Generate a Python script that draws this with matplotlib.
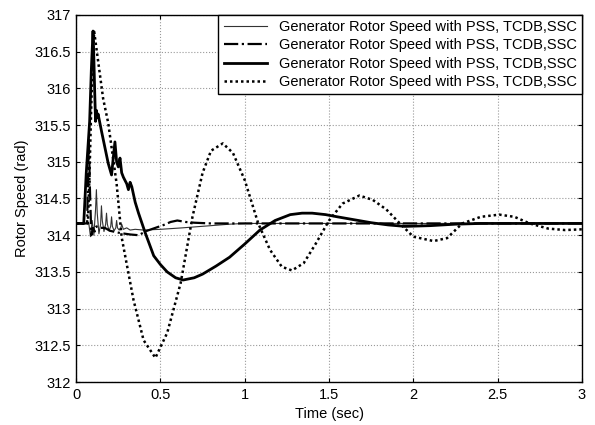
import numpy as np
import matplotlib.pyplot as plt

plt.rcParams['font.family'] = ['Liberation Sans', 'DejaVu Sans']

label = "Generator Rotor Speed with PSS, TCDB,SSC"

# thin solid
t1 = [0, 0.075, 0.085, 0.095, 0.105, 0.115, 0.12, 0.125, 0.135, 0.145, 0.15, 0.155, 0.165, 0.175, 0.18,
      0.185, 0.195, 0.205, 0.21, 0.215, 0.225, 0.235, 0.24, 0.245, 0.255, 0.265, 0.27, 0.28, 0.30, 0.32,
      0.35, 0.40, 0.5, 0.63, 0.8, 0.91, 1.0, 1.2, 3.0]
y1 = [314.16, 314.16, 313.98, 314.2, 314.0, 314.35, 314.62, 314.3, 314.02, 314.15, 314.4, 314.2, 314.05,
      314.15, 314.3, 314.15, 314.06, 314.12, 314.25, 314.12, 314.06, 314.1, 314.2, 314.1, 314.07, 314.1,
      314.15, 314.08, 314.1, 314.07, 314.08, 314.07, 314.08, 314.1, 314.13, 314.15, 314.16, 314.16, 314.16]

# dash-dot
t2 = [0, 0.065, 0.075, 0.082, 0.09, 0.10, 0.11, 0.12, 0.14, 0.17, 0.2, 0.26, 0.32, 0.37, 0.42, 0.47,
      0.52, 0.56, 0.6, 0.65, 0.7, 0.8, 3.0]
y2 = [314.16, 314.16, 315.3, 314.6, 314.0, 314.1, 314.05, 314.12, 314.1, 314.1, 314.06, 314.03, 314.01,
      314.0, 314.06, 314.1, 314.14, 314.18, 314.2, 314.18, 314.17, 314.16, 314.16]

# thick solid
t3 = [0, 0.045, 0.06, 0.07, 0.08, 0.09, 0.10, 0.105, 0.11, 0.115, 0.12, 0.125, 0.13, 0.15, 0.17, 0.19,
      0.21, 0.22, 0.23, 0.24, 0.25, 0.26, 0.27, 0.28, 0.30, 0.31, 0.32, 0.33, 0.35, 0.37, 0.41, 0.46, 0.50,
      0.54, 0.59, 0.635, 0.70, 0.75, 0.83, 0.91, 1.0, 1.09, 1.18, 1.27, 1.34, 1.40, 1.48, 1.55, 1.65, 1.75,
      1.85, 1.95, 2.1, 2.25, 2.4, 3.0]
y3 = [314.16, 314.16, 314.85, 315.2, 315.55, 316.25, 316.78, 316.4, 315.95, 315.55, 315.7, 315.6, 315.65,
      315.42, 315.2, 314.98, 314.82, 315.05, 315.27, 315.0, 314.93, 315.05, 314.85, 314.79, 314.7, 314.62,
      314.72, 314.66, 314.45, 314.3, 314.03, 313.72, 313.6, 313.5, 313.42, 313.39, 313.42, 313.47, 313.58,
      313.7, 313.88, 314.07, 314.2, 314.28, 314.3, 314.3, 314.28, 314.25, 314.21, 314.17, 314.14, 314.12,
      314.13, 314.15, 314.16, 314.16]

# dotted
t4 = [0, 0.07, 0.08, 0.09, 0.10, 0.107, 0.16, 0.19, 0.24, 0.27, 0.34, 0.40, 0.47, 0.54, 0.62, 0.69, 0.75,
      0.80, 0.87, 0.93, 1.0, 1.08, 1.15, 1.22, 1.28, 1.35, 1.42, 1.5, 1.58, 1.68, 1.76, 1.84, 1.92, 2.0,
      2.12, 2.2, 2.29, 2.4, 2.51, 2.6, 2.69, 2.8, 2.9, 3.0]
y4 = [314.16, 314.16, 314.9, 315.8, 316.5, 316.77, 315.86, 315.53, 314.7, 313.97, 313.12, 312.57, 312.33,
      312.67, 313.35, 314.25, 314.85, 315.15, 315.25, 315.12, 314.75, 314.16, 313.8, 313.57, 313.52,
      313.62, 313.88, 314.2, 314.43, 314.54, 314.48, 314.35, 314.16, 313.98, 313.92, 313.96, 314.16,
      314.25, 314.28, 314.25, 314.16, 314.09, 314.07, 314.08]

fig = plt.figure(figsize=(5.95, 4.25), dpi=100)
ax = fig.add_axes([0.128, 0.101, 0.85, 0.864])

ax.plot(t1, y1, color='#333333', lw=0.8, label=label)
ax.plot(t2, y2, color='black', lw=1.6, linestyle='-.', label=label)
ax.plot(t3, y3, color='black', lw=2.0, label=label)
ax.plot(t4, y4, color='black', lw=1.8, linestyle=(0, (1, 1.2)), label=label)

ax.set_xlim(0, 3)
ax.set_ylim(312, 317)
ax.set_xticks(np.arange(0, 3.01, 0.5))
ax.set_xticklabels(['0', '0.5', '1', '1.5', '2', '2.5', '3'])
ax.set_yticks(np.arange(312, 317.01, 0.5))
ax.set_yticklabels(['312', '312.5', '313', '313.5', '314', '314.5', '315', '315.5', '316', '316.5', '317'])
ax.tick_params(direction='in', top=True, right=True, labelsize=10.5, length=3, pad=4)
ax.grid(True, color='#999999', linestyle=':', lw=0.8)
for s in ax.spines.values():
    s.set_linewidth(1.0)

ax.set_xlabel("Time (sec)", fontsize=10.5, labelpad=4)
ax.set_ylabel("Rotor Speed (rad)", fontsize=10.5, labelpad=4)

leg = ax.legend(loc='upper right', fontsize=10.5, fancybox=False, framealpha=1, edgecolor='black',
                borderaxespad=0, handlelength=3.0, labelspacing=0.3, borderpad=0.35)
leg.get_frame().set_linewidth(1.0)

fig.savefig('out.png', dpi=100)
